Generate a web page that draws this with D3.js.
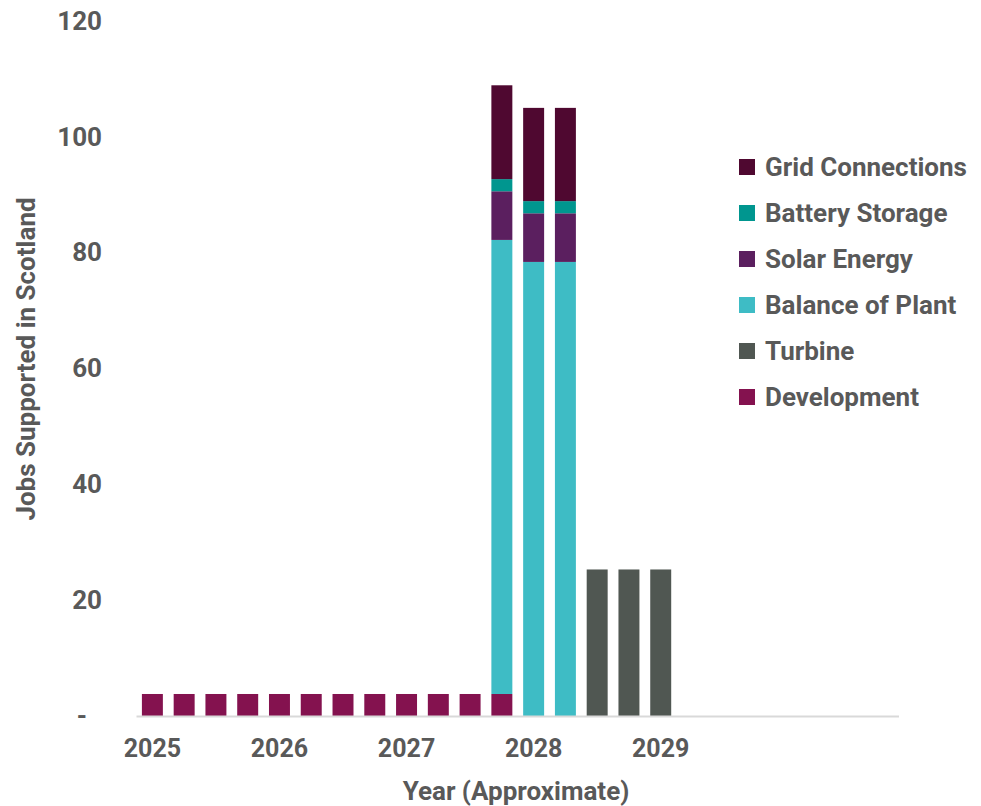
<!DOCTYPE html>
<html><head><meta charset="utf-8">
<script src="https://cdn.jsdelivr.net/npm/d3@7"></script>
<style>
html,body{margin:0;padding:0;background:#fff;}
text{font-family:Roboto,"Liberation Sans",sans-serif;font-weight:700;fill:#595959;}
</style></head>
<body><svg id="c" width="981" height="806"></svg>
<script>
// Quarterly categories 2025 Q1 .. 2030 Q4
const years = [2025, 2026, 2027, 2028, 2029, 2030];
const categories = [];
years.forEach(y => ["Q1","Q2","Q3","Q4"].forEach(q => categories.push(y + " " + q)));
const xTickLabels = {"2025 Q1":"2025","2026 Q1":"2026","2027 Q1":"2027","2028 Q1":"2028","2029 Q1":"2029"};
const yTicks = [0, 20, 40, 60, 80, 100, 120];

const seriesNames = ["Development","Turbine","Balance of Plant","Solar Energy","Battery Storage","Grid Connections"];
const development    = [3.8,3.8,3.8,3.8,3.8,3.8,3.8,3.8,3.8,3.8,3.8,3.8,0,0,0,0,0,0,0,0,0,0,0,0];
const turbine        = [0,0,0,0,0,0,0,0,0,0,0,0,0,0,25.3,25.3,25.3,0,0,0,0,0,0,0];
const balanceOfPlant = [0,0,0,0,0,0,0,0,0,0,0,78.4,78.4,78.4,0,0,0,0,0,0,0,0,0,0];
const solarEnergy    = [0,0,0,0,0,0,0,0,0,0,0,8.4,8.4,8.4,0,0,0,0,0,0,0,0,0,0];
const batteryStorage = [0,0,0,0,0,0,0,0,0,0,0,2.1,2.1,2.1,0,0,0,0,0,0,0,0,0,0];
const gridConnections= [0,0,0,0,0,0,0,0,0,0,0,16.2,16.1,16.1,0,0,0,0,0,0,0,0,0,0];
const colors = ["#84124F","#505752","#3EBCC5","#5B1F5F","#00968F","#4F0830"];

const seriesData = [development, turbine, balanceOfPlant, solarEnergy, batteryStorage, gridConnections];
const table = categories.map((c, i) => {
  const row = {cat: c};
  seriesNames.forEach((s, k) => row[s] = seriesData[k][i]);
  return row;
});

const svg = d3.select("#c");
const x0 = 136.5, x1 = 899, yBottom = 716, yTop = 21;
const x = d3.scaleBand().domain(categories).range([x0, x1]).paddingInner(0.34).paddingOuter(0.17);
const y = d3.scaleLinear().domain([0, 120]).range([yBottom, yTop]);
const color = d3.scaleOrdinal().domain(seriesNames).range(colors);

const stack = d3.stack().keys(seriesNames)(table);
svg.append("g").selectAll("g").data(stack).join("g")
  .attr("fill", d => color(d.key))
  .selectAll("rect").data(d => d.filter(p => p[1] - p[0] > 0)).join("rect")
  .attr("x", d => x(d.data.cat))
  .attr("width", x.bandwidth())
  .attr("y", d => y(d[1]))
  .attr("height", d => y(d[0]) - y(d[1]));

// x axis line
svg.append("line").attr("x1", x0).attr("x2", x1).attr("y1", yBottom + 0.5).attr("y2", yBottom + 0.5)
  .attr("stroke", "#d9d9d9").attr("stroke-width", 2);

// x tick labels
const xAxis = d3.axisBottom(x).tickSize(0).tickFormat(c => xTickLabels[c] || "");
const gx = svg.append("g").attr("transform", `translate(0,${yBottom})`).call(xAxis);
gx.select(".domain").remove();
gx.selectAll("text").attr("y", 0).attr("dy", "1.65em").style("font-size", "25px").attr("fill", "#595959");

// y axis labels
const yAxis = d3.axisLeft(y).tickValues(yTicks).tickSize(0).tickFormat(d => d === 0 ? "-" : d);
const gy = svg.append("g").attr("transform", "translate(102,0)").call(yAxis);
gy.select(".domain").remove();
gy.selectAll("text").attr("x", 0).style("font-size", "26px").attr("fill", "#595959");
gy.selectAll(".tick").filter(d => d === 0).select("text").attr("x", -15);

// axis titles
svg.append("text").attr("x", 516).attr("y", 800).attr("text-anchor", "middle")
  .style("font-size", "26px").text("Year (Approximate)");
svg.append("text").attr("transform", "translate(35,359) rotate(-90)").attr("text-anchor", "middle")
  .style("font-size", "26px").text("Jobs Supported in Scotland");

// legend
const legendOrder = seriesNames.slice().reverse();
const lg = svg.append("g").selectAll("g").data(legendOrder).join("g")
  .attr("transform", (d, i) => `translate(739,${167 + i * 46})`);
lg.append("rect").attr("x", 0).attr("y", -8).attr("width", 16).attr("height", 16).attr("fill", d => color(d));
lg.append("text").attr("x", 26).attr("y", 0).attr("dy", "0.35em").style("font-size", "26px").text(d => d);
</script></body></html>
